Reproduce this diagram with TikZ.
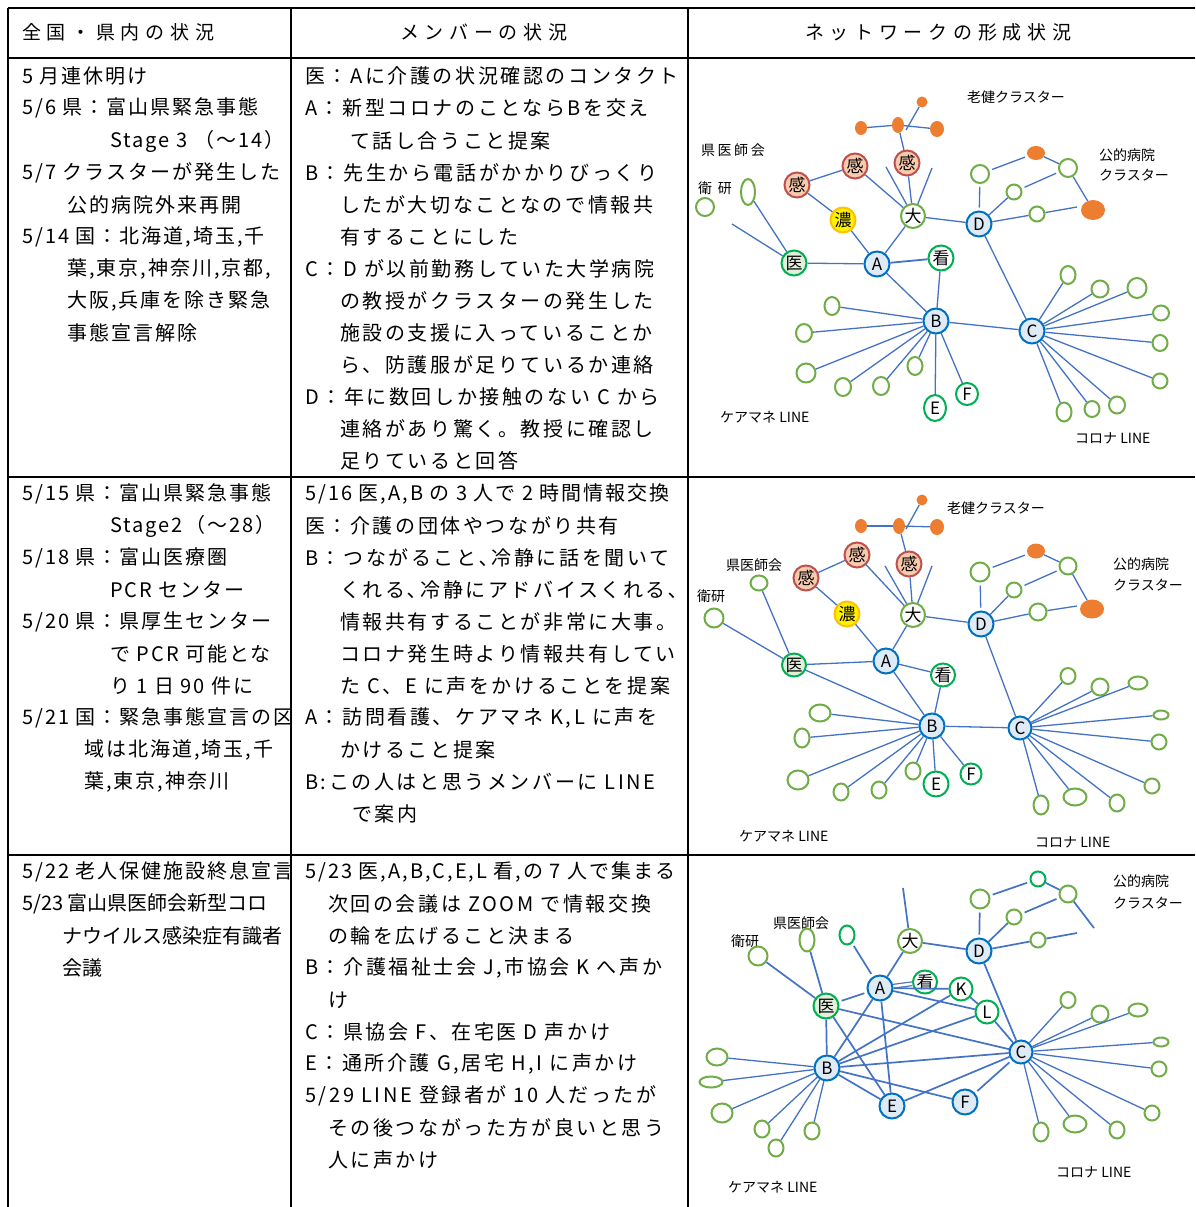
\documentclass[tikz,border=0pt]{standalone}
\usepackage{fontspec}
\setmainfont{Noto Sans CJK JP}
\newfontfamily\tblfontA{Noto Sans CJK JP}[LetterSpace=10]
\newfontfamily\tblfontB{Noto Sans CJK JP}[LetterSpace=13]
\newfontfamily\hdfont{Noto Sans CJK JP}[LetterSpace=30]
\newfontfamily\netwide{Noto Sans CJK JP}[LetterSpace=18]
\usepackage{tikz}
\usetikzlibrary{shapes.geometric}

\definecolor{lnblue}{HTML}{4472C4}
\definecolor{nblue}{HTML}{0070C0}
\definecolor{nfill}{HTML}{DEEBF7}
\definecolor{ngreen}{HTML}{00B050}
\definecolor{lgreen}{HTML}{70AD47}
\definecolor{docfill}{HTML}{E2EFDA}
\definecolor{kred}{HTML}{C0504D}
\definecolor{kfill}{HTML}{F8CBAD}
\definecolor{yborder}{HTML}{FFC000}
\definecolor{orng}{HTML}{ED7D31}

\newcommand{\tbltxtA}{\tblfontA\fontsize{20}{24}\selectfont}
\newcommand{\tbltxtB}{\tblfontB\fontsize{20}{24}\selectfont}
\newcommand{\tbltight}{\fontsize{20}{24}\selectfont}
\newcommand{\hdtxt}{\hdfont\fontsize{19}{22}\selectfont}
\newcommand{\nodelbl}{\fontsize{17}{19}\selectfont}
\newcommand{\netlbl}{\fontsize{14}{16}\selectfont}
\newcommand{\netlblw}{\netwide\fontsize{14}{16}\selectfont}

\tikzset{
  gridline/.style={line width=1.6pt, black},
  txta/.style={anchor=west, inner sep=0pt, font=\tbltxtA},
  txtb/.style={anchor=west, inner sep=0pt, font=\tbltxtB},
  hdr/.style={anchor=west, inner sep=0pt, font=\hdtxt},
  lab/.style={anchor=west, inner sep=0pt, font=\netlbl},
  lnk/.style={draw=lnblue, line width=1.3pt},
  gap/.style={lnk, shorten >=3pt, shorten <=3pt},
  mem/.style={ellipse, draw=nblue, fill=nfill, line width=2pt, minimum size=25pt, inner sep=0pt, font=\nodelbl},
  grn/.style={mem, draw=ngreen, fill=white},
  doc/.style={mem, draw=ngreen, fill=docfill},
  kan/.style={mem, draw=kred, fill=kfill},
  noh/.style={mem, draw=yborder, fill=yellow},
  dai/.style={mem, draw=lgreen, fill=white, minimum size=24pt},
  opn/.style={ellipse, draw=lgreen, line width=2pt, inner sep=0pt, minimum size=16pt},
  orn/.style={ellipse, fill=orng, inner sep=0pt},
}

\begin{document}
\begin{tikzpicture}[x=1pt,y=-1pt]
\useasboundingbox (0,0) rectangle (1195,1207);
\fill[white] (0,0) rectangle (1195,1207);

% table
\draw[gridline] (8,8) -- (1195,8);
\draw[gridline] (8,58) -- (1195,58);
\draw[gridline] (8,477) -- (1195,477);
\draw[gridline] (8,855) -- (1195,855);
\draw[gridline] (8,8) -- (8,1207);
\draw[gridline] (291,8) -- (291,1207);
\draw[gridline] (688,8) -- (688,1207);

\node[hdr] (h1) at (22,32) {全国・県内の状況};
\node[hdr] (h2) at (400,32) {メンバーの状況};
\node[hdr] (h3) at (805,32) {ネットワークの形成状況};

% column 1
\begin{scope}
\clip (9,59) rectangle (290,1207);
\node[txta] (a11) at (22,76) {5 月連休明け};
\node[txta] (a12) at (22,108) {5/6 県：富山県緊急事態};
\node[txta] (a13) at (110,141) {Stage 3 （～14）};
\node[txta] (a14) at (22,173) {5/7 クラスターが発生した};
\node[txta] (a15) at (67,205) {公的病院外来再開};
\node[txta] (a16) at (22,237) {5/14 国：北海道,埼玉,千};
\node[txta] (a17) at (67,269) {葉,東京,神奈川,京都,};
\node[txta] (a18) at (67,301) {大阪,兵庫を除き緊急};
\node[txta] (a19) at (67,333) {事態宣言解除};

\node[txta] (a21) at (22,494) {5/15 県：富山県緊急事態};
\node[txta] (a22) at (110,526) {Stage2（～28）};
\node[txta] (a23) at (22,558) {5/18 県：富山医療圏};
\node[txta] (a24) at (110,590) {PCR センター};
\node[txta] (a25) at (22,622) {5/20 県：県厚生センター};
\node[txta] (a26) at (110,654) {で PCR 可能とな};
\node[txta] (a27) at (110,686) {り 1 日 90 件に};
\node[txta] (a28) at (22,718) {5/21 国：緊急事態宣言の区};
\node[txta] (a29) at (84,750) {域は北海道,埼玉,千};
\node[txta] (a2x) at (84,782) {葉,東京,神奈川};

\node[txta] (a31) at (22,872) {5/22 老人保健施設終息宣言};
\node[anchor=west, inner sep=0pt, font=\tbltight] (a32) at (22,904) {5/23 富山県医師会新型コロ};
\node[anchor=west, inner sep=0pt, font=\tbltight] (a33) at (62,936) {ナウイルス感染症有識者};
\node[anchor=west, inner sep=0pt, font=\tbltight] (a34) at (62,968) {会議};
\end{scope}

% column 2
\begin{scope}
\clip (292,59) rectangle (687,1207);
\node[txtb] (b11) at (305,76) {医：Aに介護の状況確認のコンタクト};
\node[txtb] (b12) at (305,108) {A：新型コロナのことならBを交え};
\node[txtb] (b13) at (350,141) {て話し合うこと提案};
\node[txtb] (b14) at (305,173) {B：先生から電話がかかりびっくり};
\node[txtb] (b15) at (340,205) {したが大切なことなので情報共};
\node[txtb] (b16) at (340,237) {有することにした};
\node[txtb] (b17) at (305,269) {C：D が以前勤務していた大学病院};
\node[txtb] (b18) at (340,301) {の教授がクラスターの発生した};
\node[txtb] (b19) at (340,333) {施設の支援に入っていることか};
\node[txtb] (b1x) at (340,365) {ら、防護服が足りているか連絡};
\node[txtb] (b1y) at (305,397) {D：年に数回しか接触のない C から};
\node[txtb] (b1z) at (340,429) {連絡があり驚く。教授に確認し};
\node[txtb] (b1w) at (340,461) {足りていると回答};

\node[txta] (b21) at (305,494) {5/16 医,A,B の 3 人で 2 時間情報交換};
\node[txtb] (b22) at (305,526) {医：介護の団体やつながり共有};
\node[txtb] (b23) at (305,558) {B：つながること､冷静に話を聞いて};
\node[txtb] (b24) at (340,590) {くれる､冷静にアドバイスくれる､};
\node[txtb] (b25) at (340,622) {情報共有することが非常に大事。};
\node[txtb] (b26) at (340,654) {コロナ発生時より情報共有してい};
\node[txtb] (b27) at (340,686) {た C、E に声をかけることを提案};
\node[txtb] (b28) at (305,718) {A：訪問看護、ケアマネ K,L に声を};
\node[txtb] (b29) at (340,750) {かけること提案};
\node[txtb] (b2x) at (305,782) {B:この人はと思うメンバーに LINE};
\node[txtb] (b2y) at (352,814) {で案内};

\node[txta] (b31) at (305,872) {5/23 医,A,B,C,E,L 看,の 7 人で集まる};
\node[txtb] (b32) at (328,904) {次回の会議は ZOOM で情報交換};
\node[txtb] (b33) at (328,936) {の輪を広げること決まる};
\node[txtb] (b34) at (305,968) {B：介護福祉士会 J,市協会 K へ声か};
\node[txtb] (b35) at (328,1000) {け};
\node[txtb] (b36) at (305,1032) {C：県協会 F、在宅医 D 声かけ};
\node[txtb] (b37) at (305,1064) {E：通所介護 G,居宅 H,I に声かけ};
\node[txtb] (b38) at (305,1096) {5/29 LINE 登録者が 10 人だったが};
\node[txtb] (b39) at (328,1128) {その後つながった方が良いと思う};
\node[txtb] (b3x) at (328,1160) {人に声かけ};
\end{scope}

% network, first row
\node[lab] (rk1) at (967,97) {老健クラスター};
\node[anchor=west, inner sep=0pt, font=\netlblw] (im1) at (701,150) {県医師会};
\node[anchor=west, inner sep=0pt, font=\netlblw] (ek1) at (698,188) {衛 研};
\node[lab] (kb1) at (1099,155) {公的病院};
\node[lab] (kc1) at (1099,175) {クラスター};
\node[lab] (cm1) at (720,417) {ケアマネ LINE};
\node[lab] (cl1) at (1075,438) {コロナ LINE};

\node[orn, minimum size=11pt] (or1a) at (922,102) {};
\node[orn, minimum width=12pt, minimum height=14pt] (or1b) at (861,128) {};
\node[orn, minimum width=12pt, minimum height=16pt] (or1c) at (898,125) {};
\node[orn, minimum width=14pt, minimum height=16pt] (or1d) at (937,129) {};
\node[orn, minimum width=18pt, minimum height=14pt] (or1e) at (1036,153) {};
\node[orn, minimum width=24pt, minimum height=20pt] (or1f) at (1093,210) {};
\coordinate (j1) at (906,130);

\node[kan] (kan1a) at (907,163) {感};
\node[kan] (kan1b) at (855,166) {感};
\node[kan] (kan1c) at (797,185) {感};
\node[noh] (noh1) at (843,220) {濃};
\node[dai] (dai1) at (913,216) {大};
\node[mem] (D1) at (979,224) {D};
\node[doc] (i1) at (794,263) {医};
\node[mem] (A1) at (877,264) {A};
\node[grn] (kn1) at (941,258) {看};
\node[mem] (B1) at (936,321) {B};
\node[mem] (C1) at (1032,331) {C};
\node[grn, minimum width=22pt, minimum height=26pt] (E1) at (935,408) {E};
\node[grn, minimum size=22pt] (F1) at (967,394) {F};

\node[opn, minimum width=14pt, minimum height=26pt] (g1a) at (748,192) {};
\node[opn, minimum size=18pt] (g1b) at (705,207) {};
\node[opn, minimum size=18pt] (g1c) at (980,174) {};
\node[opn, minimum size=15pt] (g1d) at (1014,192) {};
\node[opn, minimum size=15pt] (g1e) at (1037,214) {};
\node[opn, minimum size=18pt] (g1f) at (1068,168) {};

\node[opn, minimum width=15pt, minimum height=18pt] (b1a) at (832,306) {};
\node[opn, minimum width=16pt, minimum height=18pt] (b1b) at (804,333) {};
\node[opn, minimum width=19pt, minimum height=19pt] (b1c) at (806,373) {};
\node[opn, minimum width=16pt, minimum height=18pt] (b1d) at (843,387) {};
\node[opn, minimum width=16pt, minimum height=18pt] (b1e) at (881,386) {};
\node[opn, minimum width=15pt, minimum height=18pt] (b1f) at (915,366) {};

\node[opn, minimum width=15pt, minimum height=18pt] (c1a) at (1068,275) {};
\node[opn, minimum width=17pt, minimum height=17pt] (c1b) at (1100,289) {};
\node[opn, minimum width=19pt, minimum height=20pt] (c1c) at (1137,288) {};
\node[opn, minimum width=16pt, minimum height=15pt] (c1d) at (1161,313) {};
\node[opn, minimum width=15pt, minimum height=16pt] (c1e) at (1160,343) {};
\node[opn, minimum width=15pt, minimum height=15pt] (c1f) at (1160,381) {};
\node[opn, minimum width=16pt, minimum height=17pt] (c1g) at (1117,405) {};
\node[opn, minimum width=15pt, minimum height=16pt] (c1h) at (1092,409) {};
\node[opn, minimum width=15pt, minimum height=19pt] (c1i) at (1064,412) {};

\coordinate (f1a) at (732,224);
\coordinate (f1b) at (886,167);
\coordinate (f1c) at (932,168);
\coordinate (f1d) at (1077,207);

\draw[lnk] (or1b) -- (or1c);
\draw[lnk] (or1c) -- (or1d);
\draw[lnk] (j1) -- (or1a);
\draw[lnk] (or1c) -- (kan1a);
\draw[lnk] (f1a) -- (i1);
\draw[lnk] (g1a) -- (i1);
\draw[lnk] (i1) -- (A1);
\draw[lnk, line width=1.8pt] (A1) -- (kn1);
\draw[lnk] (kan1c) -- (kan1b);
\draw[lnk] (kan1c) -- (noh1);
\draw[lnk] (noh1) -- (A1);
\draw[lnk] (A1) -- (dai1);
\draw[lnk] (kan1b) -- (dai1);
\draw[lnk] (kan1a) -- (dai1);
\draw[lnk] (f1b) -- (dai1);
\draw[lnk] (f1c) -- (dai1);
\draw[lnk] (dai1) -- (D1);
\draw[lnk] (A1) -- (B1);
\draw[lnk] (kn1) -- (B1);
\draw[lnk] (B1) -- (C1);
\draw[lnk] (D1) -- (C1);
\draw[lnk] (B1) -- (E1);
\draw[lnk] (B1) -- (F1);
\draw[gap] (g1c) -- (or1e);
\draw[gap] (g1c) -- (D1);
\draw[lnk] (D1) -- (g1d);
\draw[lnk] (D1) -- (g1e);
\draw[lnk] (g1e) -- (f1d);
\draw[gap] (g1d) -- (g1f);
\draw[lnk] (or1e) -- (g1f);
\draw[lnk] (g1f) -- (or1f);
\draw[lnk] (B1) -- (b1a);
\draw[lnk] (B1) -- (b1b);
\draw[lnk] (B1) -- (b1c);
\draw[lnk] (B1) -- (b1d);
\draw[lnk] (B1) -- (b1e);
\draw[lnk] (B1) -- (b1f);
\draw[lnk] (C1) -- (c1a);
\draw[lnk] (C1) -- (c1b);
\draw[lnk] (C1) -- (c1c);
\draw[lnk] (C1) -- (c1d);
\draw[lnk] (C1) -- (c1e);
\draw[lnk] (C1) -- (c1f);
\draw[lnk] (C1) -- (c1g);
\draw[lnk] (C1) -- (c1h);
\draw[lnk] (C1) -- (c1i);

% network, second row
\node[lab] (rk2) at (947,508) {老健クラスター};
\node[lab] (im2) at (726,565) {県医師会};
\node[lab] (ek2) at (697,596) {衛研};
\node[lab] (kb2) at (1113,564) {公的病院};
\node[lab] (kc2) at (1113,585) {クラスター};
\node[lab] (cm2) at (739,836) {ケアマネ LINE};
\node[lab] (cl2) at (1035,842) {コロナ LINE};

\node[orn, minimum size=11pt] (or2a) at (922,500) {};
\node[orn, minimum width=12pt, minimum height=14pt] (or2b) at (861,526) {};
\node[orn, minimum width=12pt, minimum height=16pt] (or2c) at (899,526) {};
\node[orn, minimum width=14pt, minimum height=16pt] (or2d) at (937,527) {};
\node[orn, minimum width=18pt, minimum height=15pt] (or2e) at (1036,551) {};
\node[orn, minimum width=24pt, minimum height=19pt] (or2f) at (1092,609) {};
\coordinate (j2) at (906,529);

\node[kan] (kan2a) at (909,564) {感};
\node[kan] (kan2b) at (857,555) {感};
\node[kan] (kan2c) at (806,578) {感};
\node[noh] (noh2) at (847,614) {濃};
\node[dai] (dai2) at (913,615) {大};
\node[mem] (D2) at (981,624) {D};
\node[doc, minimum size=23pt] (i2) at (794,665) {医};
\node[mem] (A2) at (886,661) {A};
\node[grn, minimum size=23pt] (kn2) at (943,675) {看};
\node[mem] (B2) at (932,726) {B};
\node[mem, minimum size=23pt] (C2) at (1020,728) {C};
\node[grn] (E2) at (936,784) {E};
\node[grn, minimum size=21pt] (F2) at (971,774) {F};

\node[opn, minimum width=17pt, minimum height=15pt] (g2a) at (759,583) {};
\node[opn, minimum size=19pt] (g2b) at (714,618) {};
\node[opn, minimum size=19pt] (g2c) at (980,572) {};
\node[opn, minimum size=15pt] (g2d) at (1014,590) {};
\node[opn, minimum size=17pt] (g2e) at (1038,612) {};
\node[opn, minimum size=17pt] (g2f) at (1068,566) {};

\node[opn, minimum width=21pt, minimum height=17pt] (b2a) at (820,713) {};
\node[opn, minimum width=15pt, minimum height=19pt] (b2b) at (802,738) {};
\node[opn, minimum width=21pt, minimum height=19pt] (b2c) at (798,780) {};
\node[opn, minimum width=15pt, minimum height=17pt] (b2d) at (841,792) {};
\node[opn, minimum width=15pt, minimum height=17pt] (b2e) at (879,790) {};
\node[opn, minimum width=15pt, minimum height=17pt] (b2f) at (913,771) {};

\node[opn, minimum width=15pt, minimum height=16pt] (c2a) at (1068,676) {};
\node[opn, minimum width=17pt, minimum height=17pt] (c2b) at (1100,687) {};
\node[opn, minimum width=19pt, minimum height=13pt] (c2c) at (1138,683) {};
\node[opn, minimum width=15pt, minimum height=9pt] (c2d) at (1161,715) {};
\node[opn, minimum width=15pt, minimum height=15pt] (c2e) at (1159,742) {};
\node[opn, minimum width=15pt, minimum height=15pt] (c2f) at (1152,786) {};
\node[opn, minimum width=15pt, minimum height=17pt] (c2g) at (1117,803) {};
\node[opn, minimum width=23pt, minimum height=17pt] (c2h) at (1075,797) {};
\node[opn, minimum width=15pt, minimum height=19pt] (c2i) at (1041,805) {};

\coordinate (f2b) at (885,566);
\coordinate (f2c) at (932,566);
\coordinate (f2d) at (1077,606);

\draw[lnk] (or2b) -- (or2c);
\draw[lnk] (or2c) -- (or2d);
\draw[lnk] (j2) -- (or2a);
\draw[lnk] (or2c) -- (kan2a);
\draw[lnk] (g2b) -- (i2);
\draw[lnk] (g2a) -- (i2);
\draw[lnk] (i2) -- (A2);
\draw[lnk] (i2) -- (B2);
\draw[lnk] (A2) -- (kn2);
\draw[lnk] (kan2c) -- (kan2b);
\draw[lnk] (kan2c) -- (noh2);
\draw[lnk] (noh2) -- (A2);
\draw[lnk] (A2) -- (dai2);
\draw[lnk] (kan2b) -- (dai2);
\draw[lnk] (kan2a) -- (dai2);
\draw[lnk] (f2b) -- (dai2);
\draw[lnk] (f2c) -- (dai2);
\draw[lnk] (dai2) -- (D2);
\draw[lnk] (A2) -- (B2);
\draw[lnk] (kn2) -- (B2);
\draw[lnk] (B2) -- (C2);
\draw[lnk] (D2) -- (C2);
\draw[lnk] (B2) -- (E2);
\draw[lnk] (B2) -- (F2);
\draw[gap] (g2c) -- (or2e);
\draw[gap] (g2c) -- (D2);
\draw[lnk] (D2) -- (g2d);
\draw[lnk] (D2) -- (g2e);
\draw[lnk] (g2e) -- (f2d);
\draw[gap] (g2d) -- (g2f);
\draw[lnk] (or2e) -- (g2f);
\draw[lnk] (g2f) -- (or2f);
\draw[lnk] (B2) -- (b2a);
\draw[lnk] (B2) -- (b2b);
\draw[lnk] (B2) -- (b2c);
\draw[lnk] (B2) -- (b2d);
\draw[lnk] (B2) -- (b2e);
\draw[lnk] (B2) -- (b2f);
\draw[lnk] (C2) -- (c2a);
\draw[lnk] (C2) -- (c2b);
\draw[lnk] (C2) -- (c2c);
\draw[lnk] (C2) -- (c2d);
\draw[lnk] (C2) -- (c2e);
\draw[lnk] (C2) -- (c2f);
\draw[lnk] (C2) -- (c2g);
\draw[lnk] (C2) -- (c2h);
\draw[lnk] (C2) -- (c2i);

% network, third row
\node[lab] (kb3) at (1113,881) {公的病院};
\node[lab] (kc3) at (1113,903) {クラスター};
\node[lab] (im3) at (773,923) {県医師会};
\node[lab] (ek3) at (731,941) {衛研};
\node[lab] (cm3) at (728,1187) {ケアマネ LINE};
\node[lab] (cl3) at (1056,1172) {コロナ LINE};

\node[dai] (dai3) at (910,941) {大};
\node[mem] (D3) at (979,951) {D};
\node[doc] (i3) at (826,1006) {医};
\node[mem] (A3) at (880,988) {A};
\node[grn, minimum size=23pt] (kn3) at (925,982) {看};
\node[grn, minimum size=23pt] (K3) at (961,989) {K};
\node[grn, minimum size=23pt] (L3) at (987,1012) {L};
\node[mem] (B3) at (827,1068) {B};
\node[mem, minimum size=23pt] (C3) at (1021,1052) {C};
\node[mem] (E3) at (892,1106) {E};
\node[mem] (F3) at (965,1102) {F};

\node[opn, minimum size=19pt] (g3a) at (758,956) {};
\node[opn, minimum width=15pt, minimum height=23pt] (g3b) at (807,940) {};
\node[opn, draw=ngreen, minimum width=15pt, minimum height=19pt] (g3c) at (847,935) {};
\node[opn, minimum size=19pt] (g3d) at (980,899) {};
\node[opn, minimum size=15pt] (g3e) at (1014,917) {};
\node[opn, minimum size=15pt] (g3f) at (1038,940) {};
\node[opn, minimum size=17pt] (g3g) at (1068,894) {};
\node[opn, draw=ngreen, minimum size=15pt] (g3h) at (1038,879) {};

\node[opn, minimum width=21pt, minimum height=17pt] (b3a) at (717,1057) {};
\node[opn, minimum width=23pt, minimum height=11pt] (b3b) at (711,1082) {};
\node[opn, minimum width=21pt, minimum height=19pt] (b3c) at (722,1113) {};
\node[opn, minimum width=15pt, minimum height=17pt] (b3d) at (762,1129) {};
\node[opn, minimum width=15pt, minimum height=17pt] (b3e) at (776,1148) {};
\node[opn, minimum width=15pt, minimum height=17pt] (b3f) at (812,1131) {};

\node[opn, minimum width=15pt, minimum height=16pt] (c3a) at (1068,1000) {};
\node[opn, minimum width=17pt, minimum height=17pt] (c3b) at (1100,1014) {};
\node[opn, minimum width=19pt, minimum height=13pt] (c3c) at (1138,1010) {};
\node[opn, minimum width=15pt, minimum height=9pt] (c3d) at (1161,1042) {};
\node[opn, minimum width=15pt, minimum height=15pt] (c3e) at (1159,1069) {};
\node[opn, minimum width=15pt, minimum height=15pt] (c3f) at (1152,1113) {};
\node[opn, minimum width=15pt, minimum height=17pt] (c3g) at (1117,1130) {};
\node[opn, minimum width=23pt, minimum height=17pt] (c3h) at (1075,1124) {};
\node[opn, minimum width=15pt, minimum height=19pt] (c3i) at (1041,1132) {};

\coordinate (f3b) at (903,888);
\coordinate (f3c) at (1094,928);
\coordinate (f3d) at (1077,933);

\begin{scope}[lnk/.append style={line width=1.7pt}]
\draw[lnk] (g3a) -- (i3);
\draw[lnk] (g3b) -- (i3);
\draw[gap] (g3c) -- (A3);
\draw[gap] (i3) -- (A3);
\draw[lnk] (A3) -- (dai3);
\draw[lnk] (f3b) -- (dai3);
\draw[lnk] (dai3) -- (D3);
\draw[lnk, double=white, double distance=2.5pt, line width=1.2pt] (A3) -- (kn3);
\draw[lnk] (A3) -- (K3);
\draw[lnk] (A3) -- (L3);
\draw[lnk] (K3) -- (L3);
\draw[lnk] (L3) -- (C3);
\draw[lnk] (i3) -- (B3);
\draw[lnk] (i3) -- (E3);
\draw[lnk] (i3) -- (C3);
\draw[lnk] (A3) -- (B3);
\draw[lnk] (A3) -- (E3);
\draw[lnk] (K3) -- (B3);
\draw[lnk] (L3) -- (B3);
\draw[lnk] (B3) -- (C3);
\draw[lnk] (B3) -- (E3);
\draw[lnk] (B3) -- (F3);
\draw[lnk] (E3) -- (C3);
\draw[gap] (F3) -- (C3);
\draw[lnk] (D3) -- (C3);
\draw[gap] (g3d) -- (g3h);
\draw[gap] (g3d) -- (D3);
\draw[lnk] (D3) -- (g3e);
\draw[lnk] (D3) -- (g3f);
\draw[lnk] (g3f) -- (f3d);
\draw[gap] (g3e) -- (g3g);
\draw[lnk] (g3h) -- (g3g);
\draw[lnk] (g3g) -- (f3c);
\end{scope}
\draw[lnk] (B3) -- (b3a);
\draw[lnk] (B3) -- (b3b);
\draw[lnk] (B3) -- (b3c);
\draw[lnk] (B3) -- (b3d);
\draw[lnk] (B3) -- (b3e);
\draw[lnk] (B3) -- (b3f);
\draw[lnk] (C3) -- (c3a);
\draw[lnk] (C3) -- (c3b);
\draw[lnk] (C3) -- (c3c);
\draw[lnk] (C3) -- (c3d);
\draw[lnk] (C3) -- (c3e);
\draw[lnk] (C3) -- (c3f);
\draw[lnk] (C3) -- (c3g);
\draw[lnk] (C3) -- (c3h);
\draw[lnk] (C3) -- (c3i);
\end{tikzpicture}
\end{document}
